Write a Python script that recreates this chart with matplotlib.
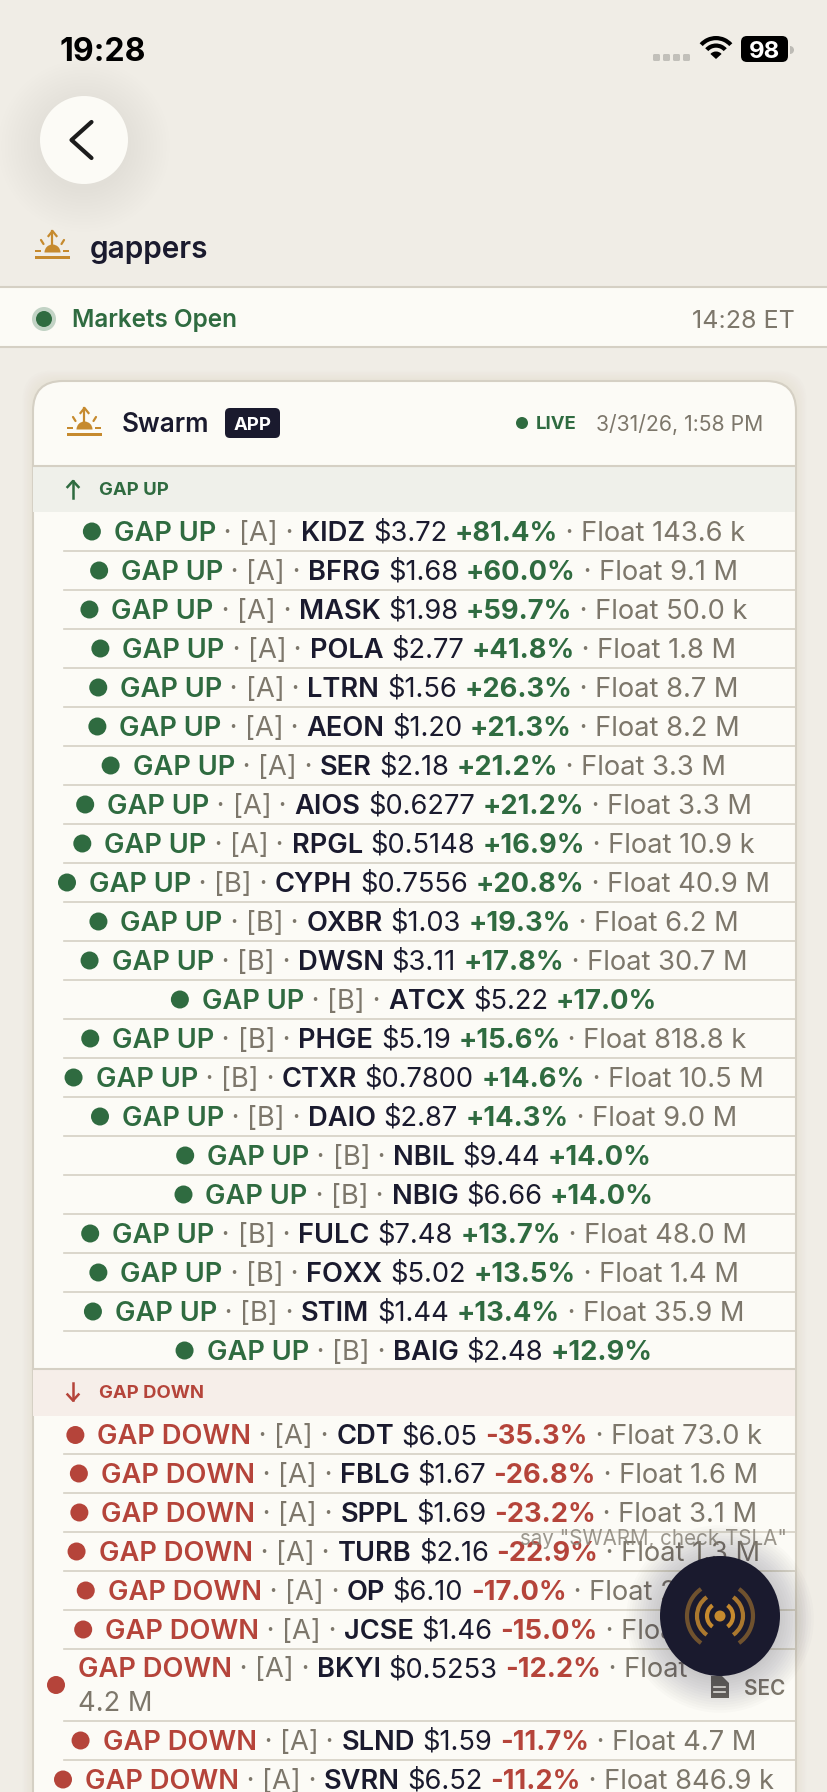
import matplotlib
matplotlib.use("Agg")
import matplotlib.pyplot as plt
from matplotlib.patches import Circle, FancyBboxPatch, Rectangle, Arc, Wedge, Polygon

# ---------- data ----------
up_tickers = ["KIDZ","BFRG","MASK","POLA","LTRN","AEON","SER","AIOS","RPGL","CYPH","OXBR","DWSN","ATCX","PHGE","CTXR","DAIO","NBIL","NBIG","FULC","FOXX","STIM","BAIG"]
up_tiers   = ["A","A","A","A","A","A","A","A","A","B","B","B","B","B","B","B","B","B","B","B","B","B"]
up_prices  = ["$3.72","$1.68","$1.98","$2.77","$1.56","$1.20","$2.18","$0.6277","$0.5148","$0.7556","$1.03","$3.11","$5.22","$5.19","$0.7800","$2.87","$9.44","$6.66","$7.48","$5.02","$1.44","$2.48"]
up_pcts    = [81.4,60.0,59.7,41.8,26.3,21.3,21.2,21.2,16.9,20.8,19.3,17.8,17.0,15.6,14.6,14.3,14.0,14.0,13.7,13.5,13.4,12.9]
up_floats  = ["143.6 k","9.1 M","50.0 k","1.8 M","8.7 M","8.2 M","3.3 M","3.3 M","10.9 k","40.9 M","6.2 M","30.7 M",None,"818.8 k","10.5 M","9.0 M",None,None,"48.0 M","1.4 M","35.9 M",None]

down_tickers = ["CDT","FBLG","SPPL","TURB","OP","JCSE","BKYI","SLND","SVRN"]
down_tiers   = ["A"]*9
down_prices  = ["$6.05","$1.67","$1.69","$2.16","$6.10","$1.46","$0.5253","$1.59","$6.52"]
down_pcts    = [-35.3,-26.8,-23.2,-22.9,-17.0,-15.0,-12.2,-11.7,-11.2]
down_floats  = ["73.0 k","1.6 M","3.1 M","1.3 M","26.0 M","1.1 M","4.2 M","4.7 M","846.9 k"]
wrapped_tickers = ["BKYI"]

# ---------- style ----------
BG="#F0EDE6"; CARD="#FCFBF6"; LINE="#D5D0C4"; GREEN="#2F6B40"; RED="#B5443A"
NAVY="#1A1A2E"; GRAY="#7D776B"; GOLD="#C68A2E"; UPBAND="#EFF0EA"; DOWNBAND="#F6EEE9"
FONT="Inter"
plt.rcParams["font.family"]=[FONT,"DejaVu Sans"]
PX=0.72

fig=plt.figure(figsize=(8.28,17.92),dpi=100,facecolor=BG)
ax=fig.add_axes([0,0,1,1]); ax.set_xlim(0,828); ax.set_ylim(1792,0); ax.axis("off")
rend=fig.canvas.get_renderer()

def T(x,y,s,size,color,weight="normal",ha="left",z=5,alpha=1):
    return ax.text(x,y,s,fontsize=size*PX,color=color,fontweight=weight,ha=ha,va="center_baseline",zorder=z,alpha=alpha)

def width(s,size,weight):
    a=ax.text(0,0,"|"+s+"|",fontsize=size*PX,fontweight=weight)
    b=ax.text(0,0,"||",fontsize=size*PX,fontweight=weight)
    w=a.get_window_extent(rend).width-b.get_window_extent(rend).width
    a.remove(); b.remove()
    return w

def rrect(x0,y0,x1,y1,r,**k):
    p=FancyBboxPatch((x0+r,y0+r),x1-x0-2*r,y1-y0-2*r,boxstyle=f"round,pad={r},rounding_size={r}",**k)
    ax.add_patch(p); return p

def sunrise(cx,base):
    ax.add_patch(Rectangle((cx-17.5,base-3),35,3.5,fc=GOLD,ec="none",zorder=4))
    ax.add_patch(Wedge((cx,base-6.5),8,180,360,fc=GOLD,ec="none",zorder=4))
    for dx in (-1,1):
        ax.add_patch(Rectangle((cx+dx*14-3,base-9),6,2.5,fc=GOLD,ec="none",zorder=4))
        ax.plot([cx+dx*9,cx+dx*11.5],[base-15,base-19],color=GOLD,lw=1.6,solid_capstyle="round",zorder=4)
    ax.plot([cx,cx],[base-28,base-15],color=GOLD,lw=1.6,zorder=4)
    ax.plot([cx-4,cx,cx+4],[base-23,base-28,base-23],color=GOLD,lw=1.6,zorder=4)

# status bar
T(60,49,"19:28",32,"#000000","bold")
for i in range(4):
    rrect(653+i*10,54,660+i*10,61,1.5,fc="#C2C0BA",ec="none")
cxw,cyw=716,59
for r in (22,14.5):
    ax.add_patch(Wedge((cxw,cyw-1),r,222,318,width=4.2,fc="#000",ec="none",zorder=5))
ax.add_patch(Wedge((cxw,cyw),7.5,222,318,fc="#000",ec="none",zorder=5))
rrect(741,36,788,62,6,fc="#000",ec="none",zorder=4)
ax.add_patch(Wedge((790,50),4,-90,90,fc="#BDBBB5",ec="none"))
T(764.5,50,"98",24,"#fff","bold",ha="center")

# back button
for i in range(14):
    ax.add_patch(Circle((84,146),44+i*3.2,fc="#8a8478",ec="none",alpha=0.006,zorder=1))
ax.add_patch(Circle((84,140),44,fc=CARD,ec="none",zorder=2))
ax.plot([91.5,71.5,91.5],[122,140,158],color="#1c1c1c",lw=3,solid_capstyle="round",solid_joinstyle="round",zorder=3)

# title
sunrise(52.5,259)
T(90,247.5,"gappers",29.8,NAVY,"semibold")

# market bar
ax.add_patch(Rectangle((0,287),828,60,fc=CARD,ec="none",zorder=1))
for y in (287,347):
    ax.plot([0,828],[y,y],color=LINE,lw=1.5,zorder=2)
ax.add_patch(Circle((44,319),12,fc="#C2D3C5",ec="none",zorder=3))
ax.add_patch(Circle((44,319),8,fc=GREEN,ec="none",zorder=4))
T(72,318.5,"Markets Open",24.3,GREEN,"semibold")
T(795,318.5,"14:28 ET",25.1,GRAY,"normal",ha="right")

# card
for i in range(8):
    rrect(33-i*1.5,381-i*1.5,796+i*1.5,1900,30,fc="#9a9484",ec="none",alpha=0.012,zorder=1)
rrect(33,381,796,1900,30,fc=CARD,ec=LINE,lw=1.5,zorder=2)
sunrise(84.5,436)
T(122,422.5,"Swarm",26,NAVY,"semibold")
rrect(225,408,280,438,5,fc=NAVY,ec="none",zorder=3)
T(252.5,423,"APP",18.5,"#fff","bold",ha="center")
ax.add_patch(Circle((522,423),6,fc=GREEN,ec="none",zorder=3))
T(536,422.5,"LIVE",18.5,GREEN,"bold")
T(763,422.5,"3/31/26, 1:58 PM",21.2,GRAY,"normal",ha="right")

# section bands
L,R=33.5,795.5
ROWL=64
def band(y0,y1,fc,label,color,up):
    ax.add_patch(Rectangle((L,y0),R-L,y1-y0,fc=fc,ec="none",zorder=3))
    ax.plot([L,R],[y0,y0],color=LINE,lw=1.5,zorder=4)
    cy=(y0+y1)/2
    if up:
        ax.plot([73,73],[cy-8,cy+9],color=color,lw=1.8,zorder=5)
        ax.plot([67.5,73,78.5],[cy-2,cy-8,cy-2],color=color,lw=1.8,zorder=5)
    else:
        ax.plot([73,73],[cy-9,cy+8],color=color,lw=1.8,zorder=5)
        ax.plot([67.5,73,78.5],[cy+2,cy+8,cy+2],color=color,lw=1.8,zorder=5)
    T(99,cy-0.5,label,18.5,color,"bold")

SZ=27.3
LW,BW="semibold","semibold"
DY=-0.8
def row(y0,h,label,color,tier,tick,price,pct,flt):
    cy=y0+h/2
    pstr=f"{pct:+.1f}%"
    left=[(label,color,LW),(" · ",GRAY,"normal"),(f"[{tier}]",GRAY,"normal"),(" · ",GRAY,"normal"),(tick,NAVY,BW),(" ",NAVY,"normal"),(price,NAVY,"normal"),(" ",NAVY,"normal"),(pstr,color,"bold")]
    if tick in wrapped_tickers:
        x=78; yl=cy-17
        ax.add_patch(Circle((56,cy),9,fc=color,ec="none",zorder=5))
        for s,c,w in left+[(" · Float",GRAY,"normal")]:
            T(x,yl+DY,s,SZ,c,w); x+=width(s,SZ,w)
        T(78,cy+17+DY,flt,SZ,GRAY)
        return
    if flt: left.append((f" · Float {flt}",GRAY,"normal"))
    total=sum(width(s,SZ,w) for s,c,w in left)+31
    x=414-total/2
    ax.add_patch(Circle((x+9,cy),9,fc=color,ec="none",zorder=5))
    x+=31
    for s,c,w in left:
        T(x,cy+DY,s,SZ,c,w); x+=width(s,SZ,w)

# gap up rows
band(466,512,UPBAND,"GAP UP",GREEN,True)
RH=39
y=512
for t,ti,p,c,f in zip(up_tickers,up_tiers,up_prices,up_pcts,up_floats):
    row(y,RH,"GAP UP",GREEN,ti,t,p,c,f)
    y+=RH
    if t!=up_tickers[-1]:
        ax.plot([ROWL,R],[y,y],color=LINE,lw=1.2,zorder=4)

# gap down rows
band(1369,1416,DOWNBAND,"GAP DOWN",RED,False)
y=1416
for t,ti,p,c,f in zip(down_tickers,down_tiers,down_prices,down_pcts,down_floats):
    h=RH if t not in wrapped_tickers else 72
    if t=="CDT": h=38
    row(y,h,"GAP DOWN",RED,ti,t,p,c,f)
    y+=h
    if t!=down_tickers[-1]:
        ax.plot([ROWL,R],[y,y],color=LINE,lw=1.2,zorder=4)

# floating overlay
T(654,1537,'say "SWARM, check TSLA"',20.6,"#8A857A","normal",ha="center",z=6,alpha=0.85)
ax.add_patch(Polygon([(711,1676),(722,1676),(729,1683),(729,1698),(711,1698)],closed=True,fc="#6E6A60",ec="none",zorder=6))
for yy in (1687,1692):
    ax.plot([714.5,725],[yy,yy],color=CARD,lw=1.2,zorder=6)
T(744,1687,"SEC",20.8,GRAY,"semibold",z=6)
for i in range(14):
    ax.add_patch(Circle((720,1619),60+i*2.6,fc="#1A1A2E",ec="none",alpha=0.014,zorder=7))
ax.add_patch(Circle((720,1616),60,fc=NAVY,ec="none",zorder=8))
ax.add_patch(Circle((720,1616),5.5,fc=GOLD,ec="none",zorder=9))
for r,a,span in ((13,1,55),(23,0.85,55),(33,0.5,55)):
    for mid in (0,180):
        ax.add_patch(Arc((720,1616),2*r,2*r,theta1=mid-span,theta2=mid+span,color=GOLD,lw=3,alpha=a,zorder=9))

fig.savefig("out.png",dpi=100,facecolor=BG)
